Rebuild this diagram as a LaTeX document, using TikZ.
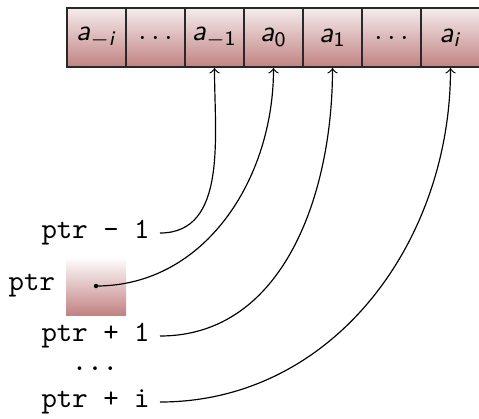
\documentclass[tikz,border=0pt]{standalone}
\usepackage{amsmath}
\definecolor{ctop}{RGB}{245,236,236}
\definecolor{cbot}{RGB}{194,130,130}
\definecolor{cline}{RGB}{40,40,40}
\newcommand\av[1]{\textsf{\textit{a}}$_{#1}$}
\newcommand\si{\textsf{\textit{i}}}
\newcommand\sd[1]{\textsf{#1}}
\begin{document}
\begin{tikzpicture}[x=0.34pt,y=-0.34pt,
  cell/.style={draw=cline, line width=0.7pt, minimum width=59*0.34pt, minimum height=59*0.34pt,
    top color=ctop, bottom color=cbot, inner sep=0pt, font=\sffamily},
  ptrbox/.style={minimum width=60*0.34pt, minimum height=58*0.34pt, inner sep=0pt,
    top color=white, bottom color=cbot},
  lbl/.style={font=\ttfamily, anchor=east},
  dotnode/.style={circle, fill=black, inner sep=0pt, minimum size=1.5pt},
  link/.style={->, line width=0.4pt, out=0, in=-90}]
\useasboundingbox (0,0) rectangle (479,418);
\node[cell] (c0) at (96.5,37.5) {\av{-\si}};
\node[cell] (c1) at (155.5,37.5) {$\ldots$};
\node[cell] (c2) at (214.5,37.5) {\av{-\sd{1}}};
\node[cell] (c3) at (273.5,37.5) {\av{\sd{0}}};
\node[cell] (c4) at (332.5,37.5) {\av{\sd{1}}};
\node[cell] (c5) at (391.5,37.5) {$\ldots$};
\node[cell] (c6) at (450.5,37.5) {\av{\si}};
\node[lbl] (pm1) at (160,233) {ptr - 1};
\node[ptrbox] (pbox) at (96,286) {};
\node[lbl] (plab) at (pbox.west) {ptr};
\node[dotnode] (dot) at (pbox.center) {};
\node[lbl] (pp1) at (160,336) {ptr + 1};
\node[font=\ttfamily] (vd) at (95,369) {...};
\node[lbl] (ppi) at (160,402) {ptr + i};
\draw[link] (pm1.east) to (c2.south);
\draw[link] (dot.center) to (c3.south);
\draw[link] (pp1.east) to (c4.south);
\draw[link] (ppi.east) to (c6.south);
\end{tikzpicture}
\end{document}
